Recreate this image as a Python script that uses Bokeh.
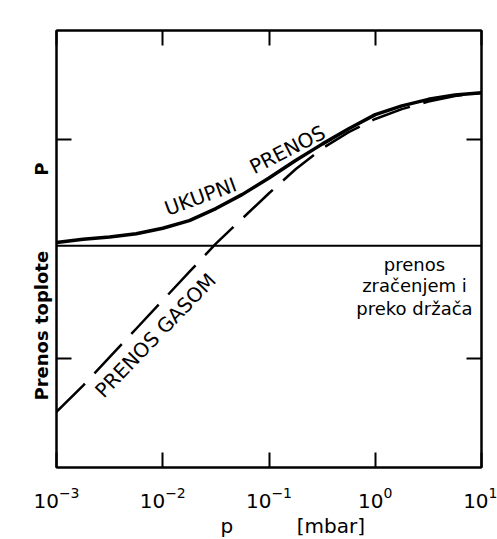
import math
from bokeh.plotting import figure
from bokeh.models import Range1d, FixedTicker, LogAxis, LinearAxis, Span, Label, Title
from bokeh.embed import file_html
from bokeh.resources import INLINE

# ---- data ----
log_p = [-3.0, -2.75, -2.5, -2.25, -2.0, -1.75, -1.5, -1.25, -1.0,
         -0.75, -0.5, -0.25, 0.0, 0.25, 0.5, 0.75, 1.0]
pressure_mbar = [10 ** v for v in log_p]
ukupni_prenos = [2.06, 2.09, 2.11, 2.14, 2.19, 2.26, 2.37, 2.50, 2.65,
                 2.81, 2.96, 3.10, 3.23, 3.31, 3.37, 3.41, 3.43]
prenos_gasom = [0.51, 0.75, 1.01, 1.27, 1.53, 1.79, 2.05, 2.28, 2.51,
                2.73, 2.92, 3.07, 3.19, 3.28, 3.35, 3.40, 3.43]
radiation_level = 2.03
x_ticks = [1e-3, 1e-2, 1e-1, 1.0, 10.0]
y_ticks = [1, 3]

FONT = "DejaVu Sans"
NBSP = "\u00a0"

p = figure(width=497, height=539, x_axis_type="log",
           x_range=Range1d(1e-3, 10.0), y_range=Range1d(0, 4),
           output_backend="svg", toolbar_location=None,
           min_border_left=56, min_border_right=16,
           min_border_top=30, min_border_bottom=69)
p.grid.visible = False
p.outline_line_color = "black"
p.outline_line_width = 2
p.background_fill_color = "white"
p.border_fill_color = "white"


def style(ax, labels):
    ax.axis_line_width = 2
    ax.axis_line_color = "black"
    ax.major_tick_in = 15
    ax.major_tick_out = 0
    ax.major_tick_line_width = 2
    ax.major_tick_line_color = "black"
    ax.minor_tick_line_color = None
    if not labels:
        ax.major_label_text_color = None
        ax.major_label_standoff = 0
        ax.major_label_text_font_size = "1px"


xa = p.xaxis[0]
xa.ticker = FixedTicker(ticks=x_ticks)
style(xa, True)
xa.major_label_text_font = FONT
xa.major_label_text_font_size = "20px"
xa.major_label_text_color = "black"
xa.major_label_standoff = 19

ya = p.yaxis[0]
ya.ticker = FixedTicker(ticks=y_ticks)
style(ya, False)

top = LogAxis(ticker=FixedTicker(ticks=x_ticks))
style(top, False)
p.add_layout(top, "above")
right = LinearAxis(ticker=FixedTicker(ticks=y_ticks))
style(right, False)
p.add_layout(right, "right")

p.add_layout(Span(location=radiation_level, dimension="width",
                  line_color="black", line_width=2))

p.line(pressure_mbar, prenos_gasom, line_color="black", line_width=2.5,
       line_dash="40 14")
p.line(pressure_mbar, ukupni_prenos, line_color="black", line_width=3.5)


def lab(text, lx, y, angle_deg=0, size="19px", align="center"):
    p.add_layout(Label(x=10 ** lx, y=y, text=text, angle=math.radians(angle_deg),
                       text_font=FONT, text_font_size=size,
                       text_color="black", text_align=align,
                       text_baseline="middle"))


lab("UKUPNI", -1.645, 2.48, 20, size="20px")
lab("PRENOS", -0.826, 2.91, 27, size="20px")
lab("PRENOS GASOM", -2.068, 1.21, 46, size="20px")

lab("prenos", 0.369, 1.86, size="18px")
lab("zračenjem i", 0.369, 1.665, size="18px")
lab("preko držača", 0.369, 1.455, size="18px")

# texts outside the frame: titles in the side panels
t_left = Title(text="Prenos toplote" + NBSP * 12 + "P", align="left",
               offset=67, standoff=10,
               text_font=FONT, text_font_size="18px", text_font_style="bold",
               text_color="black")
p.add_layout(t_left, "left")

t_bottom = Title(text="p" + NBSP * 10 + "[mbar]", align="left", offset=164,
                 standoff=3, text_font=FONT, text_font_size="20px",
                 text_font_style="normal", text_color="black")
p.add_layout(t_bottom, "below")

open("out.html", "w").write(file_html(p, INLINE))
